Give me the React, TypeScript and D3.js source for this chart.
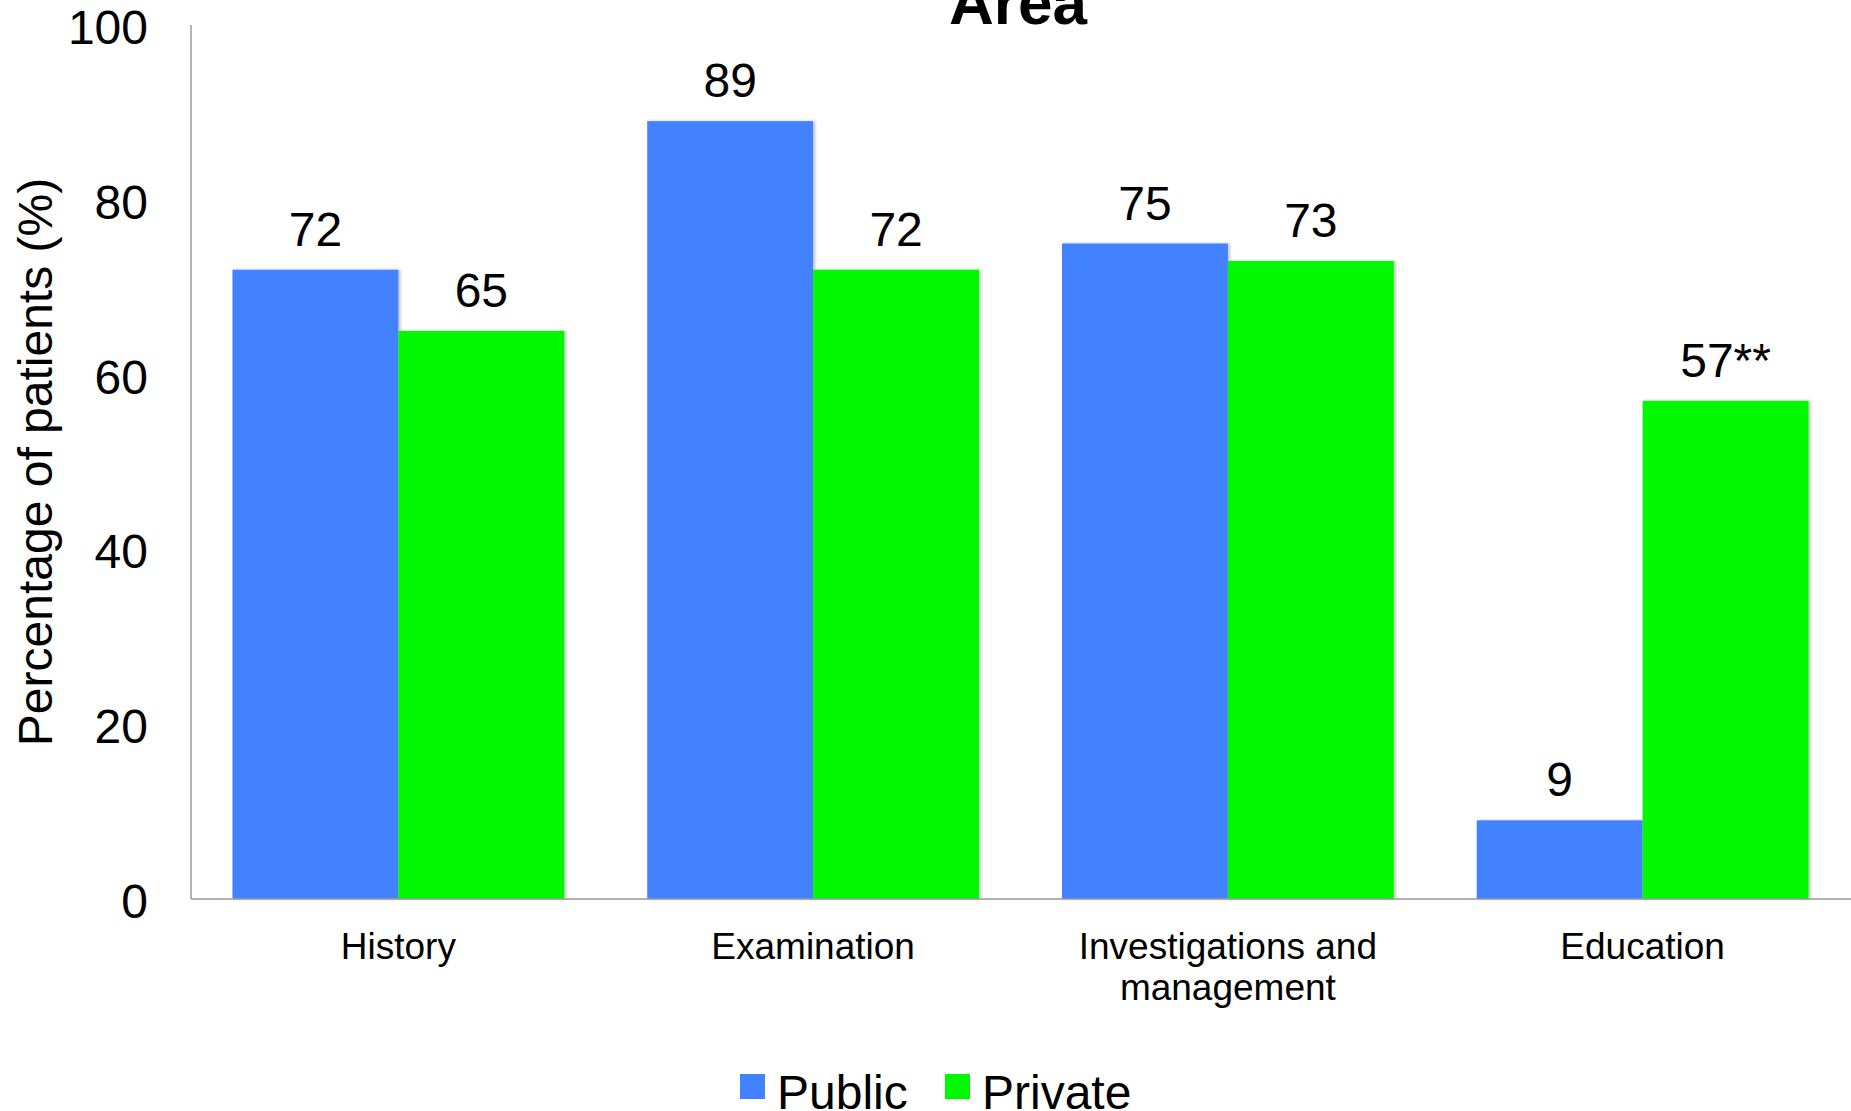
import React, { useEffect } from "react";
import * as d3 from "d3";

// Care areas and share of patients (%) receiving each, by sector
const categories: string[][] = [
  ["History"],
  ["Examination"],
  ["Investigations and", "management"],
  ["Education"],
];
const categoryKeys = ["History", "Examination", "Investigations", "Education"];
const seriesNames = ["Public", "Private"];
const publicValues = [72, 89, 75, 9];
const privateValues = [65, 72, 73, 57];
const privateLabels = ["65", "72", "73", "57**"];
const publicLabels = ["72", "89", "75", "9"];
const yTicks = [0, 20, 40, 60, 80, 100];
const seriesColors = ["#4281FF", "#00F800"];

const W = 1851;
const H = 1111;
const FONT = "'Liberation Sans', Arial, Helvetica, sans-serif";

export default function App() {
  useEffect(() => {
    document.body.style.margin = "0";
  }, []);

  const x = d3
    .scaleBand<string>()
    .domain(categoryKeys)
    .range([191, 1850])
    .paddingInner(0.2)
    .paddingOuter(0.1);
  const xSub = d3
    .scaleBand<string>()
    .domain(seriesNames)
    .range([0, x.bandwidth()]);
  const y = d3.scaleLinear().domain([0, 100]).range([899, 25]);

  const series = [
    { name: seriesNames[0], values: publicValues, labels: publicLabels, color: seriesColors[0] },
    { name: seriesNames[1], values: privateValues, labels: privateLabels, color: seriesColors[1] },
  ];

  return (
    <svg
      width={W}
      height={H}
      viewBox={`0 0 ${W} ${H}`}
      style={{ display: "block", background: "#fff" }}
      fontFamily={FONT}
    >
      <defs>
        <filter id="barShadow" x="-10%" y="-10%" width="120%" height="120%">
          <feDropShadow dx="2" dy="0" stdDeviation="1.5" floodColor="#000" floodOpacity="0.25" />
        </filter>
      </defs>
      <rect x={0} y={0} width={W} height={H} fill="#fff" />

      {/* Title (partially above the frame) */}
      <text x={1018} y={24} textAnchor="middle" fontSize={62} fontWeight="bold" fill="#000">
        Area
      </text>

      {/* Bars */}
      {series.map((s) =>
        categoryKeys.map((c, i) => {
          const bx = (x(c) ?? 0) + (xSub(s.name) ?? 0);
          const by = y(s.values[i]);
          return (
            <g key={`${s.name}-${c}`}>
              <rect
                x={bx}
                y={by}
                width={xSub.bandwidth()}
                height={y(0) - by}
                fill={s.color}
                filter="url(#barShadow)"
              />
            </g>
          );
        })
      )}

      {/* Value labels */}
      {series.map((s) =>
        categoryKeys.map((c, i) => {
          const bx = (x(c) ?? 0) + (xSub(s.name) ?? 0) + xSub.bandwidth() / 2;
          return (
            <text
              key={`lab-${s.name}-${c}`}
              x={bx}
              y={y(s.values[i]) - 24}
              textAnchor="middle"
              fontSize={48}
              fill="#000"
            >
              {s.labels[i]}
            </text>
          );
        })
      )}

      {/* Axes */}
      <line x1={191} x2={191} y1={y(100)} y2={y(0)} stroke="#999" strokeWidth={1.5} />
      <line x1={191} x2={W} y1={y(0)} y2={y(0)} stroke="#999" strokeWidth={1.5} />

      {/* Y tick labels */}
      {yTicks.map((t) => (
        <text key={`yt-${t}`} x={148} y={y(t) + 19} textAnchor="end" fontSize={48} fill="#000">
          {t}
        </text>
      ))}

      {/* Y axis title */}
      <text
        transform={`translate(52, 462) rotate(-90)`}
        textAnchor="middle"
        fontSize={48}
        fill="#000"
      >
        Percentage of patients (%)
      </text>

      {/* Category labels */}
      {categories.map((lines, i) => (
        <text
          key={`cat-${i}`}
          x={(x(categoryKeys[i]) ?? 0) + x.bandwidth() / 2}
          y={959}
          textAnchor="middle"
          fontSize={37}
          fill="#000"
        >
          {lines.map((ln, j) => (
            <tspan key={j} x={(x(categoryKeys[i]) ?? 0) + x.bandwidth() / 2} dy={j === 0 ? 0 : 41}>
              {ln}
            </tspan>
          ))}
        </text>
      ))}

      {/* Legend */}
      <rect x={740} y={1074} width={25} height={25} fill={seriesColors[0]} />
      <text x={777} y={1109} fontSize={48} fill="#000">
        {seriesNames[0]}
      </text>
      <rect x={945} y={1074} width={25} height={25} fill={seriesColors[1]} />
      <text x={982} y={1109} fontSize={48} fill="#000">
        {seriesNames[1]}
      </text>
    </svg>
  );
}
